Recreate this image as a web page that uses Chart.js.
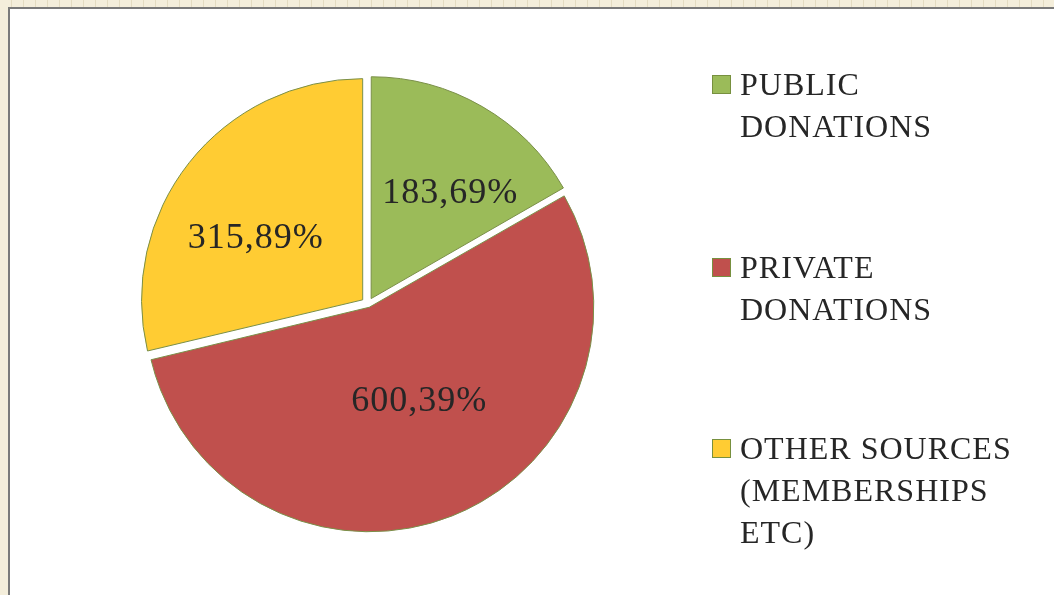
<!DOCTYPE html>
<html>
<head>
<meta charset="utf-8">
<script src="https://cdn.jsdelivr.net/npm/chart.js@4/dist/chart.umd.min.js"></script>
<style>
  html, body { margin: 0; padding: 0; }
  body {
    width: 1054px; height: 595px; overflow: hidden; position: relative;
    background: #f4eedb;
  }
  /* faixa quadriculada no topo */
  #faixa {
    position: absolute; left: 0; top: 0; width: 1054px; height: 7px;
    background: repeating-linear-gradient(90deg, #f4eedb 0px, #f4eedb 11px, #e4dcc2 11px, #e4dcc2 12px);
  }
  #painel {
    position: absolute; left: 8px; top: 7px; width: 1060px; height: 600px;
    background: #ffffff;
    border-left: 2px solid #7a7a7a; border-top: 2px solid #7a7a7a;
  }
  #grafico { position: absolute; left: 0; top: 0; }
  .item {
    position: absolute; left: 712px;
    font-family: "Liberation Serif", "DejaVu Serif", serif;
    font-size: 32px; line-height: 42px; letter-spacing: 1px;
    color: #262626;
  }
  .item .caixa {
    position: absolute; left: 0; top: 12px; width: 17px; height: 17px;
    border: 1px solid #77903f;
  }
  .item .texto { margin-left: 28px; white-space: nowrap; }
</style>
</head>
<body>
<div id="faixa"></div>
<div id="painel"></div>
<canvas id="grafico" width="1054" height="595"></canvas>
<div id="legenda"></div>

<script>
// dados do grafico
const categorias = ['PUBLIC DONATIONS', 'PRIVATE DONATIONS', 'OTHER SOURCES (MEMBERSHIPS ETC)'];
const linhasLegenda = [['PUBLIC', 'DONATIONS'], ['PRIVATE', 'DONATIONS'], ['OTHER SOURCES', '(MEMBERSHIPS', 'ETC)']];
const valores = [183.69, 600.39, 315.89];
const cores = ['#9bbb59', '#c0504d', '#ffcc33'];

// posicao vertical (centro da primeira linha) de cada item da legenda
const topoLegenda = [84, 267, 448];
// ajuste dos rotulos: fracao do raio e giro em graus a partir do meio da fatia
const ajusteRotulos = [{ f: 0.60, giro: 6 }, { f: 0.46, giro: -6.5 }, { f: 0.56, giro: -7.5 }];
// o chart.js desloca fatias maiores que 180 graus o dobro, por isso offsets diferentes
// (todas ficam afastadas uns 7px do centro)
const deslocFatias = [25, 14, 27];

/* escreve o valor de cada fatia em cima dela */
const rotulosPlugin = {
  id: 'rotulos',
  afterDatasetsDraw(chart) {
    const ctx = chart.ctx;
    const meta = chart.getDatasetMeta(0);
    const off = 7;
    ctx.save();
    ctx.font = '36px "Liberation Serif", "DejaVu Serif", serif';
    ctx.letterSpacing = '1px';
    ctx.fillStyle = '#262626';
    ctx.textAlign = 'center';
    ctx.textBaseline = 'middle';
    meta.data.forEach(function (arc, i) {
      const p = arc.getProps(['x', 'y', 'startAngle', 'endAngle', 'outerRadius'], true);
      const aj = ajusteRotulos[i];
      const meio = (p.startAngle + p.endAngle) / 2 + aj.giro * Math.PI / 180;
      const d = off + p.outerRadius * aj.f;
      const x = p.x + Math.cos(meio) * d;
      const y = p.y + Math.sin(meio) * d + 2;
      const txt = valores[i].toFixed(2).replace('.', ',') + '%';
      ctx.fillText(txt, x, y);
    });
    ctx.restore();
  }
};

function criaGrafico(IdElement) {
  let ctx = document.getElementById(IdElement).getContext('2d');
  window.graficoPizza = new Chart(ctx, {
    type: 'pie',
    data: {
      labels: categorias,
      datasets: [{
        data: valores,
        backgroundColor: cores,
        borderColor: '#7a8f48',
        borderWidth: 1,
        offset: deslocFatias
      }]
    },
    options: {
      responsive: false,
      animation: false,
      events: [],
      radius: 221,
      layout: { padding: { left: 140, right: 458, top: 80, bottom: 67 } },
      plugins: {
        legend: { display: false },
        tooltip: { enabled: false }
      }
    },
    plugins: [rotulosPlugin]
  });
}

// legenda em html ao lado do grafico
function criaLegenda() {
  let el = document.getElementById('legenda');
  for (let i = 0; i < categorias.length; i++) {
    let item = document.createElement('div');
    item.className = 'item';
    item.style.top = (topoLegenda[i] - 21) + 'px';
    let caixa = document.createElement('div');
    caixa.className = 'caixa';
    caixa.style.background = cores[i];
    let texto = document.createElement('div');
    texto.className = 'texto';
    texto.innerHTML = linhasLegenda[i].join('<br>');
    item.appendChild(caixa);
    item.appendChild(texto);
    el.appendChild(item);
  }
}

window.onload = function () {
  criaGrafico('grafico');
  criaLegenda();
};
</script>
</body>
</html>
